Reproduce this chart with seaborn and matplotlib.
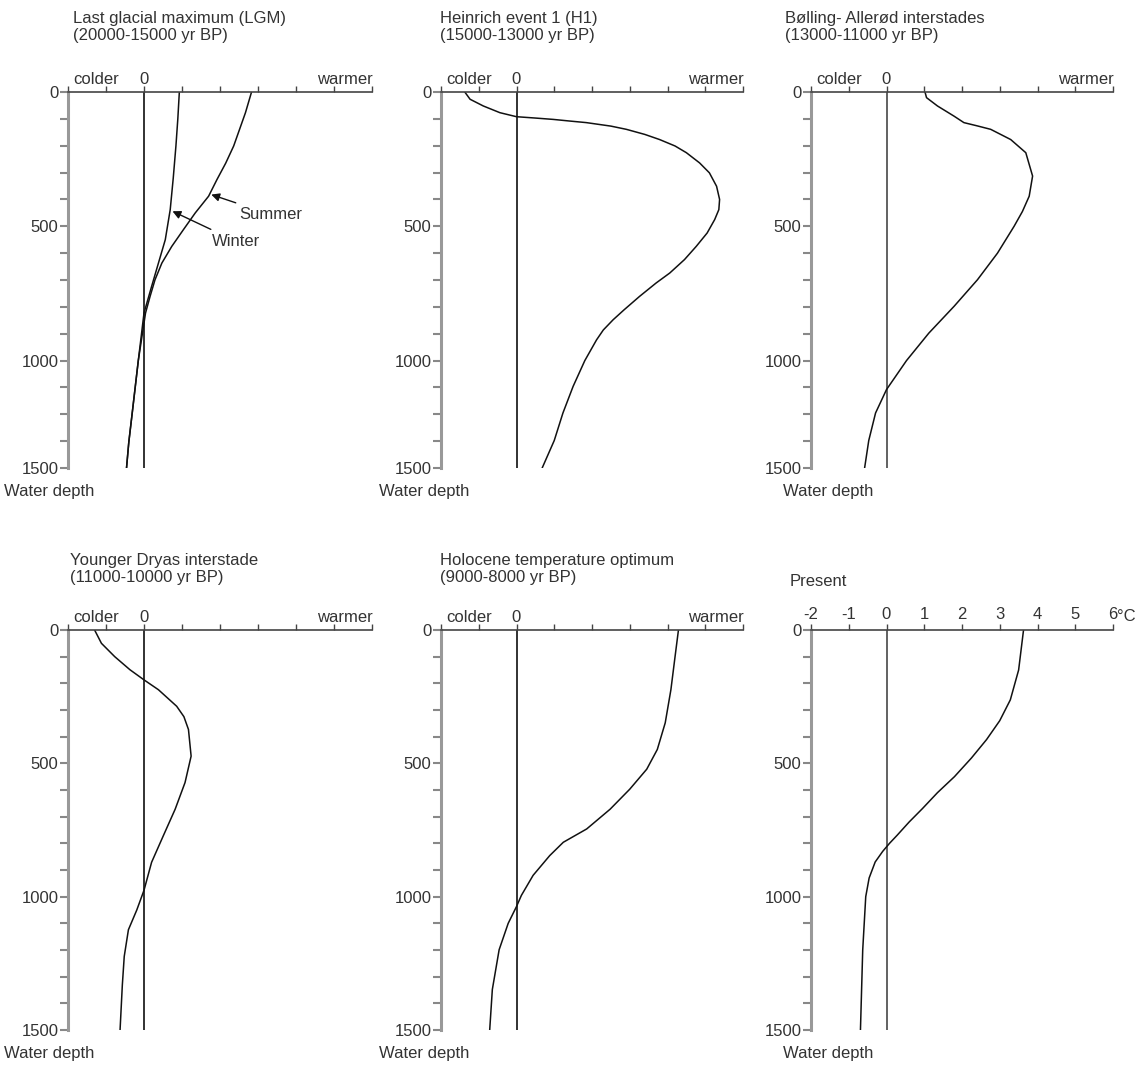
import numpy as np
import matplotlib.pyplot as plt
import seaborn as sns

# temperature anomaly (degC) against water depth (m)
lgm_winter_t = [0.93, 0.89, 0.84, 0.77, 0.69, 0.56, 0.38, 0.2, 0.0, -0.15, -0.31, -0.4, -0.46]
lgm_winter_d = [0, 100, 201, 320, 438, 550, 637, 724, 823, 1000, 1244, 1380, 1500]
lgm_summer_t = [2.83, 2.67, 2.36, 2.15, 1.92, 1.70, 1.35, 1.04, 0.73, 0.47, 0.29, 0.16, 0.04,
                -0.15, -0.31, -0.4, -0.46]
lgm_summer_d = [0, 77, 201, 265, 326, 388, 450, 512, 575, 637, 699, 761, 823,
                1000, 1244, 1380, 1500]

h1_t = [-1.37, -1.23, -0.88, -0.44, 0.0, 0.5, 0.97, 1.4, 1.85, 2.5, 2.91, 3.4, 3.79, 4.2,
        4.5, 4.85, 5.11, 5.3, 5.38, 5.36, 5.25, 5.05, 4.76, 4.45, 4.06, 3.7, 3.26, 2.85,
        2.56, 2.3, 2.12, 1.81, 1.5, 1.23, 1.0, 0.68]
h1_d = [0, 27, 52, 77, 92, 97, 102, 108, 114, 127, 139, 158, 177, 201,
        226, 264, 301, 351, 400, 438, 475, 525, 575, 624, 674, 711, 761, 811,
        848, 886, 923, 1000, 1120, 1244, 1372, 1500]

ba_t = [1.02, 1.06, 1.35, 1.79, 2.05, 2.4, 2.76, 3.29, 3.69, 3.87, 3.78, 3.6, 3.38, 2.94,
        2.41, 1.79, 1.12, 0.53, 0.0, -0.29, -0.47, -0.58]
ba_d = [0, 21, 52, 90, 114, 126, 139, 177, 226, 313, 388, 445, 500, 600,
        699, 798, 898, 1000, 1135, 1244, 1372, 1500]

yd_t = [-1.3, -1.12, -0.77, -0.37, 0.0, 0.38, 0.86, 1.05, 1.17, 1.24, 1.08, 0.82, 0.51,
        0.2, 0.0, -0.19, -0.41, -0.52, -0.57, -0.63]
yd_d = [0, 50, 100, 149, 187, 224, 286, 325, 373, 473, 572, 672, 771,
        871, 976, 1050, 1124, 1224, 1331, 1500]

hto_t = [4.29, 4.2, 4.09, 3.94, 3.73, 3.45, 3.0, 2.48, 1.86, 1.24, 0.88, 0.44, 0.13,
         0.0, -0.22, -0.46, -0.64, -0.71]
hto_d = [0, 100, 224, 348, 448, 522, 597, 672, 746, 796, 846, 920, 995,
         1037, 1100, 1199, 1348, 1500]

present_t = [3.63, 3.5, 3.28, 3.0, 2.65, 2.25, 1.8, 1.35, 0.95, 0.6, 0.28, 0.08, -0.1,
             -0.3, -0.46, -0.55, -0.63, -0.69]
present_d = [0, 150, 262, 340, 411, 480, 550, 610, 670, 720, 770, 800, 830,
             870, 930, 1000, 1200, 1500]

titles = ["Last glacial maximum (LGM)\n(20000-15000 yr BP)",
          "Heinrich event 1 (H1)\n(15000-13000 yr BP)",
          "Bølling- Allerød interstades\n(13000-11000 yr BP)",
          "Younger Dryas interstade\n(11000-10000 yr BP)",
          "Holocene temperature optimum\n(9000-8000 yr BP)",
          "Present"]
temp_ticks = [-2, -1, 0, 1, 2, 3, 4, 5, 6]
depth_ticks = [0, 500, 1000, 1500]
depth_minor_top = [100, 200, 300, 400, 600, 700, 800, 900, 1125, 1250, 1375]
depth_minor_bottom = [100, 200, 300, 400, 600, 700, 800, 900, 1100, 1200, 1300, 1400]

sns.set_style("white")
plt.rcParams["font.family"] = ["Liberation Sans", "DejaVu Sans"]
plt.rcParams["font.size"] = 12
TXT = "#333333"

W, H = 1146, 1070
fig = plt.figure(figsize=(W / 100, H / 100), dpi=100)


def px_axes(x0, x1, y0, y1):
    return fig.add_axes([x0 / W, 1 - y1 / H, (x1 - x0) / W, (y1 - y0) / H])


# the upper row's depth axis is squeezed below 1000 m in the original
def fwd(d):
    d = np.asarray(d, dtype=float)
    return np.where(d <= 1000, d, 1000 + (d - 1000) * 0.8)


def inv(y):
    y = np.asarray(y, dtype=float)
    return np.where(y <= 1000, y, 1000 + (y - 1000) / 0.8)


cols = [(68, 372), (441, 743), (811, 1113)]
rows = [(92, 468), (630, 1030)]
wd_offset = [-64, -62, -28]
axes = []
for r in rows:
    for c in cols:
        axes.append(px_axes(c[0], c[1], r[0], r[1]))

for i, ax in enumerate(axes):
    if i < 3:
        ax.set_yscale("function", functions=(fwd, inv))
        minor = depth_minor_top
    else:
        minor = depth_minor_bottom
    ax.set_xlim(-2, 6)
    ax.set_ylim(1500, 0)
    for s in ["right", "bottom"]:
        ax.spines[s].set_visible(False)
    ax.spines["top"].set_color("#444444")
    ax.spines["top"].set_linewidth(1.2)
    ax.spines["left"].set_color("#999999")
    ax.spines["left"].set_linewidth(2.2)
    ax.xaxis.tick_top()
    ax.set_xticks(temp_ticks)
    ax.set_yticks(depth_ticks)
    ax.set_yticks(minor, minor=True)
    ax.set_yticklabels([str(t) for t in depth_ticks])
    ax.tick_params(axis="x", top=True, bottom=False, direction="out", length=4, width=1,
                   color="#444444", labelcolor=TXT, pad=2)
    ax.tick_params(axis="y", which="both", left=True, direction="out", length=6,
                   width=1.5, color="#888888", labelcolor=TXT, pad=1)
    ax.axvline(0, color="#555555" if i in (2, 5) else "#222222", lw=1.3, zorder=1)
    if i < 5:
        ax.set_xticklabels([])
        tr = ax.get_xaxis_transform()
        ax.text(-1.85, 1.012, "colder", transform=tr, ha="left", va="bottom", color=TXT)
        ax.text(0, 1.012, "0", transform=tr, ha="center", va="bottom", color=TXT)
        ax.text(6.02, 1.012, "warmer", transform=tr, ha="right", va="bottom", color=TXT)
    else:
        ax.set_xticklabels([str(t) for t in temp_ticks])
        ax.annotate("°C", xy=(6, 1), xycoords=ax.get_xaxis_transform(), xytext=(4, 6),
                    textcoords="offset pixels", ha="left", va="bottom", color=TXT)
    # water depth label below each panel
    ax.annotate("Water depth", xy=(0, 0), xycoords="axes fraction",
                xytext=(wd_offset[i % 3], -16), textcoords="offset pixels",
                ha="left", va="top", color=TXT)

profiles = [
    (lgm_winter_t, lgm_winter_d, 0), (lgm_summer_t, lgm_summer_d, 0),
    (h1_t, h1_d, 1), (ba_t, ba_d, 2), (yd_t, yd_d, 3), (hto_t, hto_d, 4),
    (present_t, present_d, 5),
]
for t, d, k in profiles:
    sns.lineplot(x=t, y=d, sort=False, estimator=None, color="#111111", lw=1.1,
                 ax=axes[k])
for ax in axes:
    ax.set_xlabel("")
    ax.set_ylabel("")

# titles
title_px = [(73, 11), (440, 11), (785, 11), (70, 553), (440, 553), (790, 574)]
for (x, y), t in zip(title_px, titles):
    fig.text(x / W, 1 - y / H, t, ha="left", va="top", color=TXT, linespacing=1.15)

arrow = dict(arrowstyle="-|>", color="#111111", lw=1.0, mutation_scale=12)
axes[0].annotate("Summer", xy=(1.77, 382), xytext=(2.5, 456), va="center", ha="left",
                 color=TXT, arrowprops=dict(arrow, shrinkA=2, shrinkB=0))
axes[0].annotate("Winter", xy=(0.75, 444), xytext=(1.79, 556), va="center", ha="left",
                 color=TXT, arrowprops=dict(arrow, shrinkA=2, shrinkB=0))

fig.savefig("out.png", dpi=100)
